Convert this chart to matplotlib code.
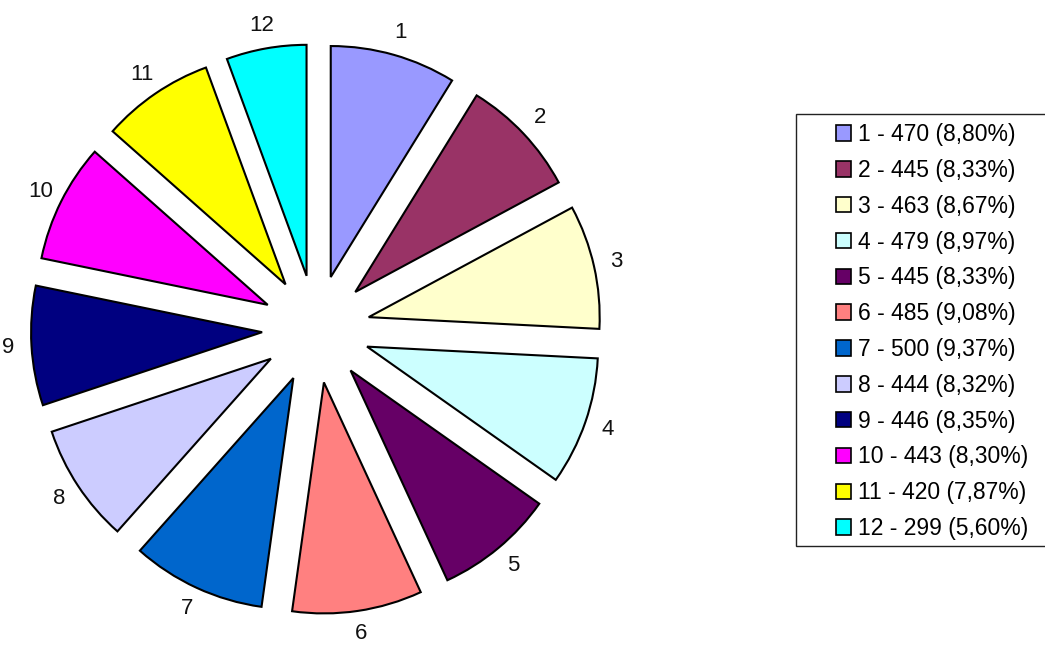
import matplotlib
matplotlib.use("Agg")
import matplotlib.pyplot as plt
from matplotlib.patches import Rectangle

plt.rcParams['font.family'] = ['Liberation Sans', 'DejaVu Sans']

categories = ["1", "2", "3", "4", "5", "6", "7", "8", "9", "10", "11", "12"]
values = [470, 445, 463, 479, 445, 485, 500, 444, 446, 443, 420, 299]
colors = ["#9999FF", "#993366", "#FFFFCC", "#CCFFFF", "#660066", "#FF8080",
          "#0066CC", "#CCCCFF", "#000080", "#FF00FF", "#FFFF00", "#00FFFF"]

total = sum(values)
legend_labels = [f"{c} - {v} ({v / total * 100:.2f}%)".replace(".", ",")
                 for c, v in zip(categories, values)]

W, H = 1045, 649
fig = plt.figure(figsize=(W / 100, H / 100), dpi=100)
ax = fig.add_axes([0, 0, 1, 1])

R = 231
wedges, texts = ax.pie(values, labels=categories, colors=colors,
                       explode=[54] * len(values), startangle=90,
                       counterclock=False, center=(316, H - 329), radius=R,
                       labeldistance=1.10, frame=True,
                       wedgeprops=dict(edgecolor='black', linewidth=1.5),
                       textprops=dict(fontsize=16, color='#111111'))
for t in texts:
    t.set_horizontalalignment('center')
    t.set_verticalalignment('center')
ax.set_xlim(0, W)
ax.set_ylim(0, H)
ax.set_aspect('equal')
ax.axis('off')

# legend frame (extends past the right edge of the picture, as in the reference)
ax.add_patch(Rectangle((796 / W, 1 - 546 / H), (1060 - 796) / W, (546 - 114) / H,
                       transform=fig.transFigure, facecolor='white',
                       edgecolor='#222222', linewidth=1.0, zorder=0))

leg = ax.legend(wedges, legend_labels, loc='upper left',
                bbox_to_anchor=(836 / W, 1 - 123 / H), bbox_transform=fig.transFigure,
                fontsize=16.5, frameon=False, handlelength=0.66, handleheight=0.66,
                handletextpad=0.3, labelspacing=0.56, borderpad=0.0,
                borderaxespad=0)
for h in leg.legend_handles:
    h.set_linewidth(1.2)

fig.savefig("out.png", dpi=100, facecolor='white')
